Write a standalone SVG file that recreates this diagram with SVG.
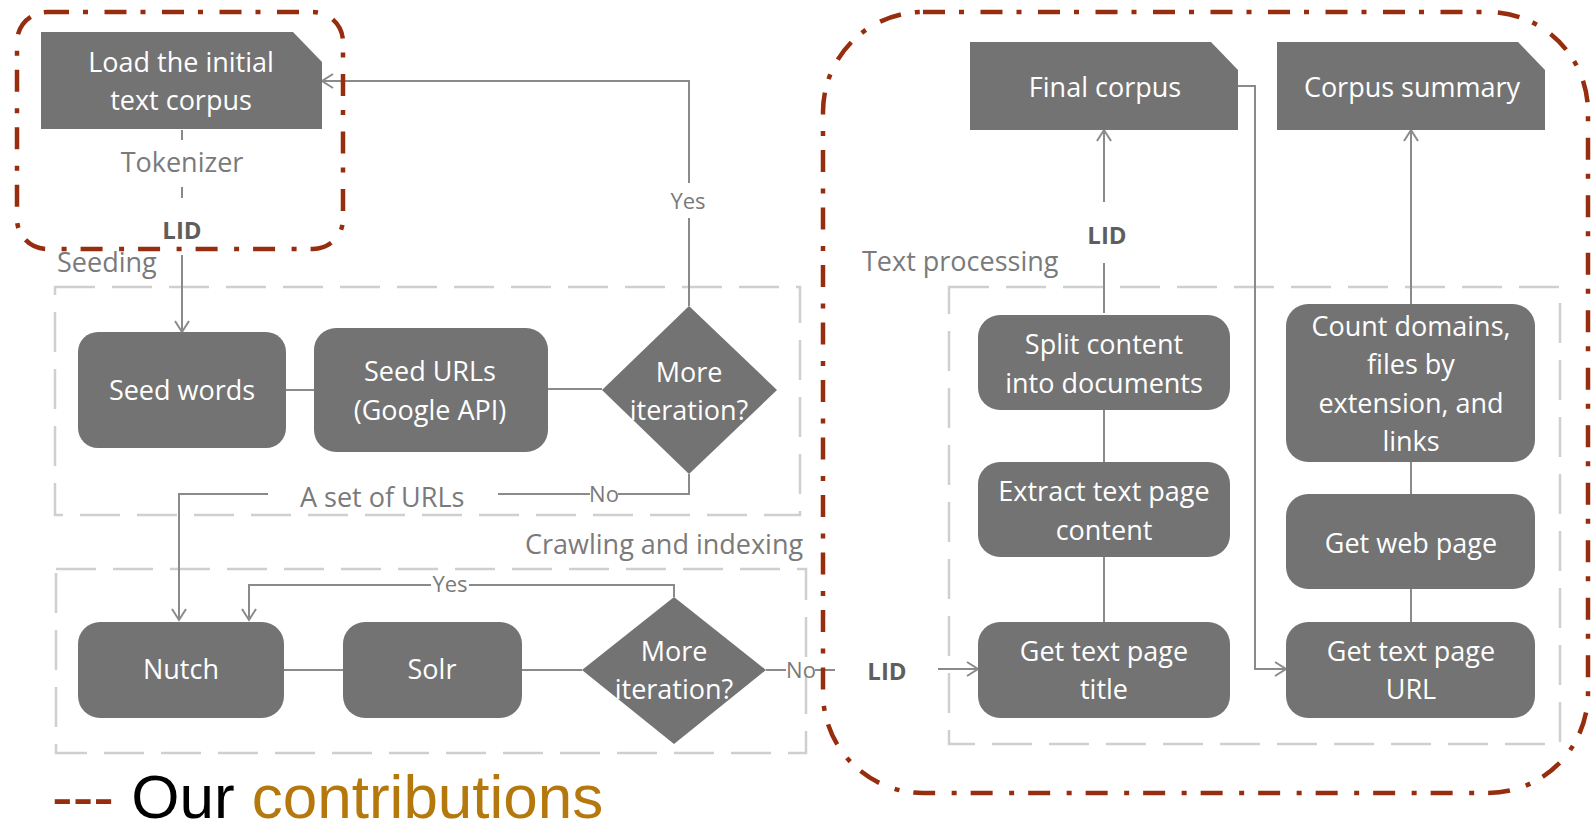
<svg xmlns="http://www.w3.org/2000/svg" width="1591" height="831" viewBox="0 0 1591 831">
  <defs>
    <style>
      .node { fill: #737373; }
      .nt { font-family: "Open Sans", "Liberation Sans", sans-serif; font-size: 27px; fill: #ffffff; text-anchor: middle; }
      .lbl { font-family: "Open Sans", "Liberation Sans", sans-serif; font-size: 27px; fill: #7a7a7a; }
      .small { font-family: "Open Sans", "Liberation Sans", sans-serif; font-size: 22px; fill: #7a7a7a; text-anchor: middle; }
      .lid { font-family: "Open Sans", "Liberation Sans", sans-serif; font-size: 24px; font-weight: bold; fill: #5e5e5e; text-anchor: middle; }
      .edge { fill: none; stroke: #8a8a8a; stroke-width: 2; }
      .group { fill: none; stroke: #cfcfcf; stroke-width: 2.5; stroke-dasharray: 40 17; }
      .contrib { fill: none; stroke: #962d0e; stroke-width: 4.5; stroke-dasharray: 22 14 5 16.5; }
    </style>
    <marker id="arrow" markerWidth="14" markerHeight="16" refX="12" refY="8" orient="auto" markerUnits="userSpaceOnUse">
      <path d="M1,1 L12,8 L1,15" fill="none" stroke="#8a8a8a" stroke-width="2"/>
    </marker>
  </defs>
  <rect width="1591" height="831" fill="#ffffff"/>

  <!-- process stage frames -->
  <g id="stages">
    <rect class="group" x="55" y="287" width="745" height="228"/>
    <rect class="group" x="56" y="569" width="750" height="184"/>
    <rect class="group" x="949" y="287" width="611" height="457"/>
    <text class="lbl" x="57" y="272">Seeding</text>
    <text class="lbl" x="525" y="554">Crawling and indexing</text>
    <text class="lbl" x="862" y="271">Text processing</text>
  </g>

  <!-- connectors -->
  <g id="connectors">
    <path class="edge" d="M182,130 V140 M182,187 V198"/>
    <path class="edge" d="M182,255 V332" marker-end="url(#arrow)"/>
    <path class="edge" d="M689,306 V218"/>
    <path class="edge" d="M689,183 V81 H322" marker-end="url(#arrow)"/>
    <path class="edge" d="M286,390 H314"/>
    <path class="edge" d="M548,389 H602"/>
    <path class="edge" d="M689,474 V494 H618 M590,494 H498"/>
    <path class="edge" d="M268,494 H179 V620" marker-end="url(#arrow)"/>
    <path class="edge" d="M674,597 V585 H469"/>
    <path class="edge" d="M431,585 H249 V620" marker-end="url(#arrow)"/>
    <path class="edge" d="M284,670 H343"/>
    <path class="edge" d="M522,670 H582"/>
    <path class="edge" d="M766,670 H786 M815,670 H835"/>
    <path class="edge" d="M938,669 H978" marker-end="url(#arrow)"/>
    <path class="edge" d="M1104,313 V263"/>
    <path class="edge" d="M1104,202 V130" marker-end="url(#arrow)"/>
    <path class="edge" d="M1238,86 H1255 V669 H1286" marker-end="url(#arrow)"/>
    <path class="edge" d="M1411,304 V130" marker-end="url(#arrow)"/>
    <path class="edge" d="M1104,410 V462 M1104,557 V622 M1411,462 V494 M1411,589 V622"/>
    <text class="small" x="688" y="209">Yes</text>
    <text class="small" x="604" y="502">No</text>
    <text class="small" x="450" y="592">Yes</text>
    <text class="small" x="801" y="678">No</text>
    <text class="lbl" x="300" y="507">A set of URLs</text>
    <text class="lbl" x="182" y="172" text-anchor="middle">Tokenizer</text>
    <text class="lid" x="182" y="239">LID</text>
    <text class="lid" x="1107" y="244">LID</text>
    <text class="lid" x="887" y="680">LID</text>
  </g>

  <g id="load-corpus">
    <polygon class="node" points="41,32 293,32 322,62 322,129 41,129"/>
    <text class="nt" x="181" y="72">Load the initial</text>
    <text class="nt" x="181" y="110">text corpus</text>
  </g>
  <g id="seed-words">
    <rect class="node" x="78" y="332" width="208" height="116" rx="20"/>
    <text class="nt" x="182" y="400">Seed words</text>
  </g>
  <g id="seed-urls">
    <rect class="node" x="314" y="328" width="234" height="124" rx="22"/>
    <text class="nt" x="430" y="381">Seed URLs</text>
    <text class="nt" x="430" y="420">(Google API)</text>
  </g>
  <g id="seed-decision">
    <polygon class="node" points="689,306 777,390 689,474 602,390"/>
    <text class="nt" x="689" y="382">More</text>
    <text class="nt" x="689" y="420">iteration?</text>
  </g>
  <g id="nutch">
    <rect class="node" x="78" y="622" width="206" height="96" rx="22"/>
    <text class="nt" x="181" y="679">Nutch</text>
  </g>
  <g id="solr">
    <rect class="node" x="343" y="622" width="179" height="96" rx="22"/>
    <text class="nt" x="432" y="679">Solr</text>
  </g>
  <g id="crawl-decision">
    <polygon class="node" points="674,597 766,670 674,744 582,670"/>
    <text class="nt" x="674" y="661">More</text>
    <text class="nt" x="674" y="699">iteration?</text>
  </g>

  <g id="final-corpus">
    <polygon class="node" points="970,42 1211,42 1238,70 1238,130 970,130"/>
    <text class="nt" x="1105" y="97">Final corpus</text>
  </g>
  <g id="corpus-summary">
    <polygon class="node" points="1277,42 1518,42 1545,70 1545,130 1277,130"/>
    <text class="nt" x="1412" y="97">Corpus summary</text>
  </g>
  <g id="split-content">
    <rect class="node" x="978" y="315" width="252" height="95" rx="22"/>
    <text class="nt" x="1104" y="354">Split content</text>
    <text class="nt" x="1104" y="393">into documents</text>
  </g>
  <g id="extract-content">
    <rect class="node" x="978" y="462" width="252" height="95" rx="22"/>
    <text class="nt" x="1104" y="501">Extract text page</text>
    <text class="nt" x="1104" y="540">content</text>
  </g>
  <g id="page-title">
    <rect class="node" x="978" y="622" width="252" height="96" rx="22"/>
    <text class="nt" x="1104" y="661">Get text page</text>
    <text class="nt" x="1104" y="699">title</text>
  </g>
  <g id="count-domains">
    <rect class="node" x="1286" y="304" width="249" height="158" rx="22"/>
    <text class="nt" x="1411" y="336">Count domains,</text>
    <text class="nt" x="1411" y="374">files by</text>
    <text class="nt" x="1411" y="413">extension, and</text>
    <text class="nt" x="1411" y="451">links</text>
  </g>
  <g id="web-page">
    <rect class="node" x="1286" y="494" width="249" height="95" rx="22"/>
    <text class="nt" x="1411" y="553">Get web page</text>
  </g>
  <g id="page-url">
    <rect class="node" x="1286" y="622" width="249" height="96" rx="22"/>
    <text class="nt" x="1411" y="661">Get text page</text>
    <text class="nt" x="1411" y="699">URL</text>
  </g>

  <!-- highlighted parts -->
  <g id="contributions">
    <rect class="contrib" x="17" y="12" width="326" height="237" rx="30"/>
    <rect class="contrib" x="823" y="12" width="765" height="781" rx="100"/>
  </g>

  <g id="legend">
    <text x="52" y="818" font-family="'Liberation Sans', Arial, sans-serif" font-size="62"><tspan fill="#962d0e">---</tspan><tspan fill="#000000"> Our </tspan><tspan fill="#b5780c">contributions</tspan></text>
  </g>
</svg>
